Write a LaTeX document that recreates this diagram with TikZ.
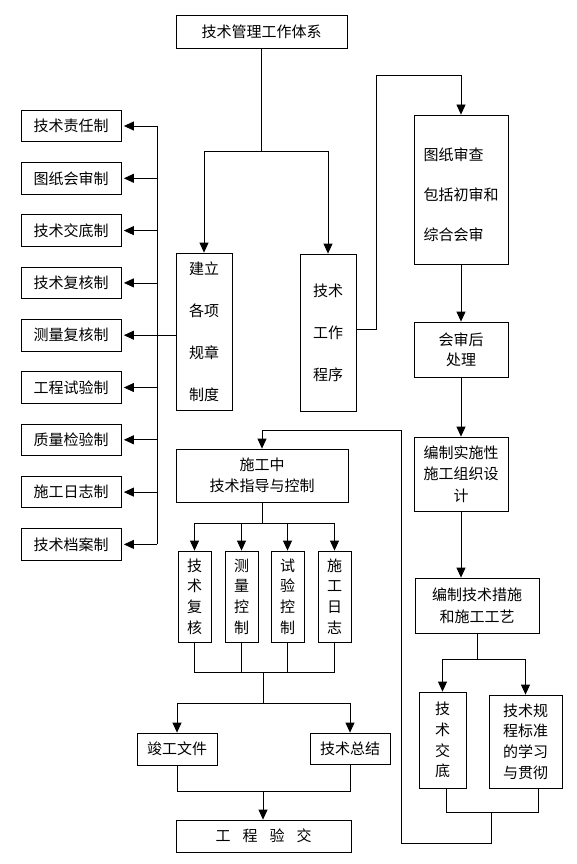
\documentclass[tikz,border=0pt]{standalone}
\usepackage{fontspec}
\newfontfamily\cjk{Noto Sans CJK SC}
\usetikzlibrary{arrows.meta}
\begin{document}
\begin{tikzpicture}[x=1pt,y=-1pt,
  box/.style={draw, line width=0.8pt, inner sep=0pt, align=center,
    font=\cjk\fontsize{15}{21}\selectfont},
  tallbox/.style={box, font=\cjk\fontsize{15}{42}\selectfont},
  lbox/.style={box, minimum width=100pt, minimum height=31.5pt},
  vbox/.style={box, minimum width=33pt, minimum height=91pt, font=\cjk\fontsize{15}{20.7}\selectfont},
  ln/.style={line width=0.8pt},
  arr/.style={ln, -{Triangle[length=10pt,width=9pt]}},
  larr/.style={arr, shorten >=2.5pt}]
\useasboundingbox (0,0) rectangle (576,864);

% top
\node[box, minimum width=171pt, minimum height=33pt] (top) at (261.5,31.5) {技术管理工作体系};

% left column
\node[lbox] (L1) at (71,126.0) {技术责任制};
\node[lbox] (L2) at (71,178.3) {图纸会审制};
\node[lbox] (L3) at (71,230.6) {技术交底制};
\node[lbox] (L4) at (71,282.9) {技术复核制};
\node[lbox] (L5) at (71,335.2) {测量复核制};
\node[lbox] (L6) at (71,387.5) {工程试验制};
\node[lbox] (L7) at (71,439.8) {质量检验制};
\node[lbox] (L8) at (71,492.1) {施工日志制};
\node[lbox] (L9) at (71,544.4) {技术档案制};

% middle tall boxes
\node[tallbox, minimum width=56pt, minimum height=157pt] (jianli) at (204,331.5) {建立\\各项\\规章\\制度};
\node[tallbox, minimum width=56pt, minimum height=157pt] (jishu) at (328,332.5) {技术\\工作\\程序};

% right column
\node[box, minimum width=94pt, minimum height=149pt] (tuzhi) at (461,189.5) {};
\node[align=left, inner sep=0pt, font=\cjk\fontsize{15}{40}\selectfont] (tuzhit) at (461,195) {图纸审查\\包括初审和\\综合会审};
\node[box, minimum width=94pt, minimum height=55pt, font=\cjk\fontsize{15}{20}\selectfont] (huishen) at (461,349.5) {会审后\\处理};
\node[box, minimum width=94pt, minimum height=74pt, font=\cjk\fontsize{15}{21.5}\selectfont] (bianzhi) at (461,474) {编制实施性\\施工组织设\\计};
\node[box, minimum width=124pt, minimum height=55pt, font=\cjk\fontsize{15}{22}\selectfont] (cuoshi) at (477,605.5) {编制技术措施\\和施工工艺};
\node[box, minimum width=47pt, minimum height=96pt, font=\cjk\fontsize{15}{20.7}\selectfont] (jiaodi) at (442.5,740) {技\\术\\交\\底};
\node[box, minimum width=73pt, minimum height=93pt, font=\cjk\fontsize{15}{20.7}\selectfont] (guicheng) at (525.5,741.5) {技术规\\程标准\\的学习\\与贯彻};

% lower middle
\node[box, minimum width=172pt, minimum height=53pt] (shigong) at (262,475.5) {施工中\\技术指导与控制};
\node[vbox] (f1) at (194.5,596.5) {技\\术\\复\\核};
\node[vbox] (f2) at (241.5,596.5) {测\\量\\控\\制};
\node[vbox] (f3) at (287.5,596.5) {试\\验\\控\\制};
\node[vbox] (f4) at (334.5,596.5) {施\\工\\日\\志};
\node[box, minimum width=80pt, minimum height=32pt] (jungong) at (177,749) {竣工文件};
\node[box, minimum width=80pt, minimum height=31pt] (zongjie) at (350,748.5) {技术总结};
\node[box, minimum width=175pt, minimum height=32pt] (yanjiao) at (263.5,836) {工\hspace{12pt}程\hspace{12pt}验\hspace{12pt}交};

% coordinates
\coordinate (b1) at (261.5,151);
\coordinate (busx) at (157,0);
\coordinate (r1) at (376,75);
\coordinate (b2) at (477,659);
\coordinate (j3) at (491,812);
\coordinate (loopbl) at (401,843);
\coordinate (looptl) at (401,430);
\coordinate (b3) at (262,523);
\coordinate (b4) at (263,672);
\coordinate (b5) at (263,703);
\coordinate (b6) at (263,791);

% connectors: top
\draw[ln] (top.south) -- (b1);
\draw[arr] (b1) -| (jianli.north);
\draw[arr] (b1) -| (jishu.north);

% left bus
\draw[ln] (L1 -| busx) -- (L9 -| busx);
\draw[ln] (jianli.west |- L5) -- (L5 -| busx);
\foreach \n in {L1,L2,L3,L4,L5,L6,L7,L8,L9}
  \draw[larr] (\n -| busx) -- (\n.east);

% right column
\draw[arr] ([yshift=3.5pt]jishu.east) -| (r1) -| (tuzhi.north);
\draw[arr] (tuzhi.south) -- (huishen.north);
\draw[arr] (huishen.south) -- (bianzhi.north);
\draw[arr] (bianzhi.south) -- (bianzhi.south |- cuoshi.north);
\draw[ln] (cuoshi.south) -- (b2);
\draw[arr] (b2) -| (jiaodi.north);
\draw[arr] (b2) -| (guicheng.north);
\draw[ln] ([xshift=3.5pt]jiaodi.south) |- (j3) -| ([xshift=12.5pt]guicheng.south);
\draw[arr] (j3) |- (loopbl) -- (looptl) -| (shigong.north);

% lower middle
\draw[ln] (shigong.south) -- (b3);
\draw[arr] (b3) -| (f1.north);
\draw[arr] (b3) -| (f2.north);
\draw[arr] (b3) -| (f3.north);
\draw[arr] (b3) -| (f4.north);
\draw[ln] (f1.south) |- (f4.south |- b4) -- (f4.south);
\draw[ln] (f2.south) -- (f2.south |- b4);
\draw[ln] (f3.south) -- (f3.south |- b4);
\draw[ln] (b4) -- (b5);
\draw[arr] (b5) -| (jungong.north);
\draw[arr] (b5) -| (zongjie.north);
\draw[ln] (jungong.south) |- (zongjie.south |- b6) -- (zongjie.south);
\draw[arr] (b6) -- (b6 |- yanjiao.north);
\end{tikzpicture}
\end{document}
